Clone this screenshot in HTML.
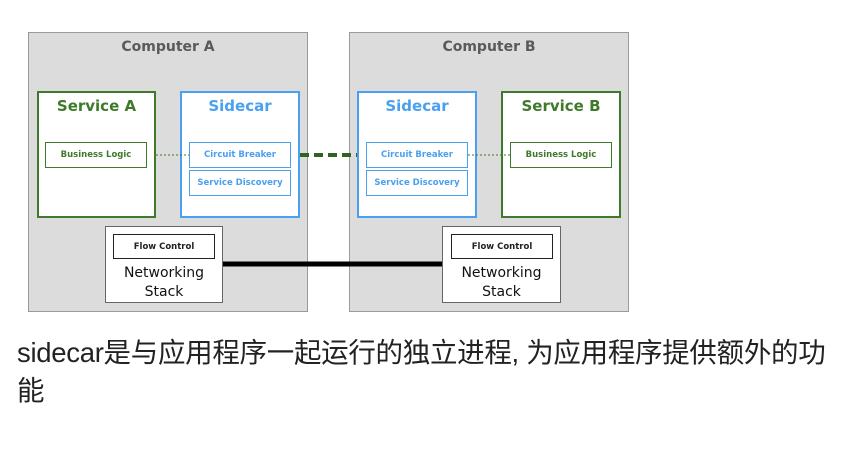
<!DOCTYPE html>
<html><head><meta charset="utf-8"><style>
body{margin:0;width:857px;height:469px;background:#fff;overflow:hidden;position:relative;font-family:"DejaVu Sans","Liberation Sans",sans-serif}
.b{position:absolute;box-sizing:border-box}
.comp{background:#dcdcdc;border:1px solid #9a9a9a}
.ct{position:absolute;left:0;right:0;top:6px;text-align:center;font-size:14px;font-weight:bold;color:#5a5a5a}
.g{border:2px solid #3f7a2a;background:#fff}
.bl{border:2px solid #4aa0f0;background:#fff}
.t{position:absolute;left:0;right:0;top:4px;text-align:center;font-size:15px;font-weight:bold}
.in{font-size:8.5px;font-weight:bold;display:flex;align-items:center;justify-content:center;background:#fff}
.ns{border:1.5px solid #666;background:#fff}
.nst{position:absolute;left:0;right:0;top:37px;text-align:center;font-size:14px;line-height:19px;color:#111}
.txt{position:absolute;left:17px;top:334px;font-family:"Liberation Sans","Noto Sans CJK SC",sans-serif;font-size:27.5px;line-height:38px;color:#222;white-space:nowrap;letter-spacing:-0.3px}
</style></head><body>
<div class="b comp" style="left:28px;top:32px;width:280px;height:280px"><div class="ct">Computer A</div></div>
<div class="b comp" style="left:349px;top:32px;width:280px;height:280px"><div class="ct">Computer B</div></div>

<div class="b g" style="left:37px;top:91px;width:119px;height:127px"><div class="t" style="color:#3f7a2a">Service A</div></div>
<div class="b bl" style="left:180px;top:91px;width:120px;height:127px"><div class="t" style="color:#4aa0f0">Sidecar</div></div>
<div class="b bl" style="left:357px;top:91px;width:120px;height:127px"><div class="t" style="color:#4aa0f0">Sidecar</div></div>
<div class="b g" style="left:501px;top:91px;width:120px;height:127px"><div class="t" style="color:#3f7a2a">Service B</div></div>

<div class="b in" style="left:45px;top:142px;width:102px;height:26px;border:1px solid #3f7a2a;color:#3f7a2a">Business Logic</div>
<div class="b in" style="left:189px;top:142px;width:102px;height:26px;border:1px solid #4aa0f0;color:#4aa0f0">Circuit Breaker</div>
<div class="b in" style="left:189px;top:170px;width:102px;height:26px;border:1px solid #4aa0f0;color:#4aa0f0">Service Discovery</div>
<div class="b in" style="left:366px;top:142px;width:102px;height:26px;border:1px solid #4aa0f0;color:#4aa0f0">Circuit Breaker</div>
<div class="b in" style="left:366px;top:170px;width:102px;height:26px;border:1px solid #4aa0f0;color:#4aa0f0">Service Discovery</div>
<div class="b in" style="left:510px;top:142px;width:102px;height:26px;border:1px solid #3f7a2a;color:#3f7a2a">Business Logic</div>

<div class="b ns" style="left:105px;top:226px;width:118px;height:77px"><div class="nst">Networking<br>Stack</div></div>
<div class="b in" style="left:113px;top:234px;width:102px;height:25px;border:1.5px solid #222;color:#222">Flow Control</div>
<div class="b ns" style="left:442px;top:226px;width:119px;height:77px"><div class="nst">Networking<br>Stack</div></div>
<div class="b in" style="left:451px;top:234px;width:102px;height:25px;border:1.5px solid #222;color:#222">Flow Control</div>

<svg class="b" style="left:0;top:0" width="857" height="469">
<line x1="156" y1="155" x2="189" y2="155" stroke="#3f7a2a" stroke-width="1" stroke-dasharray="2,2"/>
<line x1="468" y1="155" x2="510" y2="155" stroke="#3f7a2a" stroke-width="1" stroke-dasharray="2,2"/>
<line x1="300" y1="155" x2="357" y2="155" stroke="#2f6420" stroke-width="4" stroke-dasharray="9,5"/>
<line x1="223" y1="264" x2="442" y2="264" stroke="#000" stroke-width="5"/>
</svg>

<div class="txt">sidecar是与应用程序一起运行的独立进程, 为应用程序提供额外的功<br>能</div>
</body></html>
